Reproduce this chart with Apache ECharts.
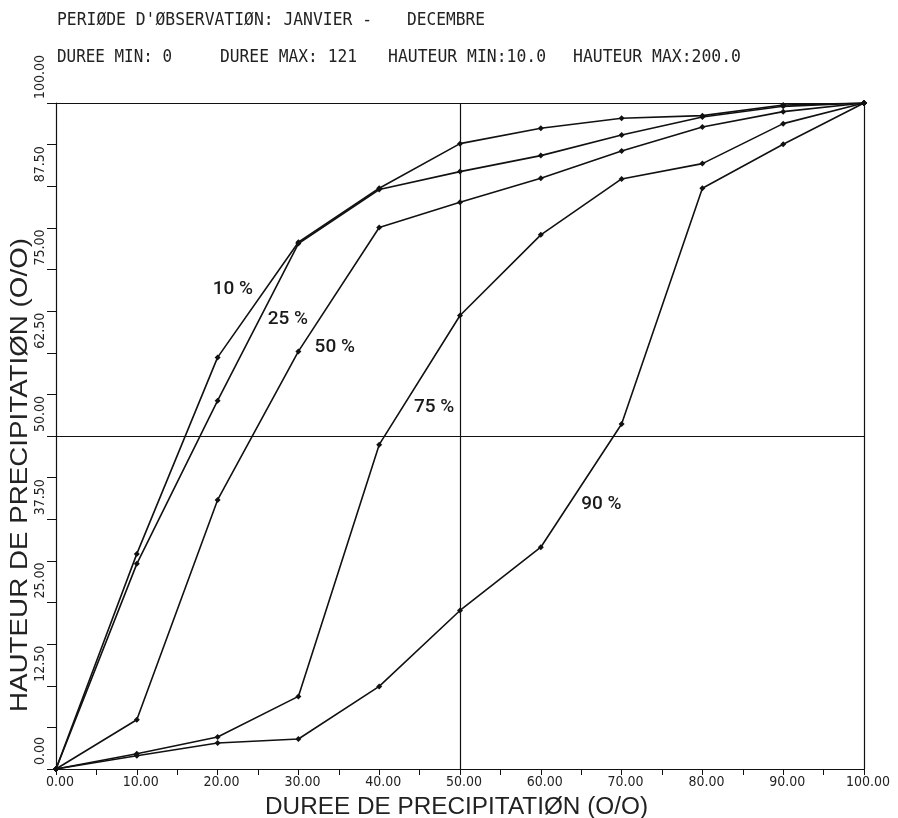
<!DOCTYPE html>
<html>
<head>
<meta charset="utf-8">
<script src="https://cdn.jsdelivr.net/npm/echarts@6/dist/echarts.min.js"></script>
<style>
html,body{margin:0;padding:0;background:#fff;}
#chart{width:898px;height:818px;}
</style>
</head>
<body>
<div id="chart"></div>
<script>
// ---- data ----
const durations = [0, 10, 20, 30, 40, 50, 60, 70, 80, 90, 100];
const curve10 = [0, 32.3, 61.8, 79.1, 87.2, 93.9, 96.2, 97.7, 98.1, 99.7, 100];
const curve25 = [0, 30.8, 55.3, 78.9, 87.0, 89.7, 92.1, 95.2, 97.9, 99.5, 100];
const curve50 = [0, 7.4, 40.4, 62.7, 81.3, 85.1, 88.7, 92.8, 96.4, 98.7, 100];
const curve75 = [0, 2.3, 4.8, 10.9, 48.7, 68.1, 80.2, 88.6, 90.9, 96.9, 100];
const curve90 = [0, 2.0, 3.9, 4.5, 12.4, 23.8, 33.3, 51.8, 87.2, 93.8, 100];
const curveNames = ['10 %', '25 %', '50 %', '75 %', '90 %'];
// label anchor points in data units (duration %, height %)
const labelDur = [21.9, 28.7, 34.5, 46.8, 67.5];
const labelHt = [72.0, 67.5, 63.4, 54.3, 39.7];
const refLinesX = [50, 100];
const refLinesY = [50, 100];
const headerLine1 = ["PERIØDE D'ØBSERVATIØN: JANVIER -", "DECEMBRE"];
const headerLine2 = ["DUREE MIN: 0", "DUREE MAX: 121", "HAUTEUR MIN:10.0", "HAUTEUR MAX:200.0"];
const xTitle = "DUREE DE PRECIPITATIØN (O/O)";
const yTitle = "HAUTEUR DE PRECIPITATIØN (O/O)";

// ---- layout ----
const plotterFont = "'Liberation Sans Narrow','DejaVu Sans Condensed','Liberation Sans',sans-serif";
const header1Pos = [[57, 372], [407, 485]];
const header2Pos = [[57, 172], [220, 357], [388, 546], [573, 741]];
const mctx = document.createElement('canvas').getContext('2d');
function fitText(text, x0, x1, y, size, family, rot) {
  const font = size + "px " + family;
  mctx.font = font;
  const w = mctx.measureText(text).width;
  const el = {
    type: 'text', x: x0, y: y, scaleX: (x1 - x0) / w, silent: true,
    style: { text: text, font: font, fill: '#222', textAlign: 'left', textVerticalAlign: 'middle' }
  };
  if (rot) { el.rotation = rot; }
  return el;
}
const monoFam = "'DejaVu Sans Mono', 'Liberation Mono', monospace";
const sansFam = "'Liberation Sans', sans-serif";
const graphics = [];
headerLine1.forEach((t, i) => graphics.push(fitText(t, header1Pos[i][0], header1Pos[i][1], 21, 17, monoFam)));
headerLine2.forEach((t, i) => graphics.push(fitText(t, header2Pos[i][0], header2Pos[i][1], 57.5, 17, monoFam)));
graphics.push(fitText(xTitle, 265, 648, 808, 23, sansFam));
// rotated y title: text runs bottom -> top
(function () {
  const el = fitText(yTitle, 0, 474, 20, 24, sansFam, Math.PI / 2);
  el.x = 20; el.y = 712;
  graphics.push(el);
})();

const curves = [curve10, curve25, curve50, curve75, curve90];
const series = curves.map((c, i) => ({
  name: curveNames[i],
  type: 'line',
  data: durations.map((d, k) => [d, c[k]]),
  symbol: 'diamond',
  symbolSize: 6,
  showAllSymbol: true,
  lineStyle: { color: '#111', width: 1.6 },
  itemStyle: { color: '#111' },
  emphasis: { disabled: true },
  markPoint: {
    symbol: 'circle', symbolSize: 0, silent: true,
    data: [{ coord: [labelDur[i], labelHt[i]] }],
    label: {
      show: true, position: 'inside', formatter: curveNames[i],
      fontFamily: 'Roboto, Liberation Sans, sans-serif', fontWeight: 500, fontSize: 19, color: '#1a1a1a'
    }
  }
}));
series.push({
  type: 'line', data: [], silent: true,
  markLine: {
    silent: true, symbol: 'none', animation: false,
    label: { show: false },
    lineStyle: { color: '#111', width: 1.2, type: 'solid' },
    data: refLinesX.map(v => ({ xAxis: v })).concat(refLinesY.map(v => ({ yAxis: v })))
  }
});

const chart = echarts.init(document.getElementById('chart'), null, { renderer: 'canvas' });
chart.setOption({
  animation: false,
  backgroundColor: '#fff',
  grid: { left: 56, right: 34, top: 103, bottom: 49, containLabel: false },
  xAxis: {
    type: 'value', min: 0, max: 100, interval: 10,
    axisLine: { lineStyle: { color: '#111', width: 1.2 } },
    axisTick: { show: true, inside: false, length: 6, lineStyle: { color: '#111' } },
    minorTick: { show: true, splitNumber: 2, length: 6, lineStyle: { color: '#111' } },
    splitLine: { show: false },
    axisLabel: {
      formatter: v => v.toFixed(2), color: '#222', fontSize: 14, margin: 6,
      fontFamily: plotterFont, padding: [0, 0, 0, 8]
    }
  },
  yAxis: {
    type: 'value', min: 0, max: 100, interval: 12.5,
    axisLine: { lineStyle: { color: '#111', width: 1.2 } },
    axisTick: { show: true, inside: false, length: 9, lineStyle: { color: '#111' } },
    minorTick: { show: true, splitNumber: 2, length: 9, lineStyle: { color: '#111' } },
    splitLine: { show: false },
    axisLabel: {
      formatter: v => v.toFixed(2), color: '#222', fontSize: 14, margin: 9, rotate: 90,
      align: 'left', padding: [0, 0, 0, 4],
      fontFamily: plotterFont
    }
  },
  graphic: graphics,
  series: series
});
</script>
</body>
</html>
